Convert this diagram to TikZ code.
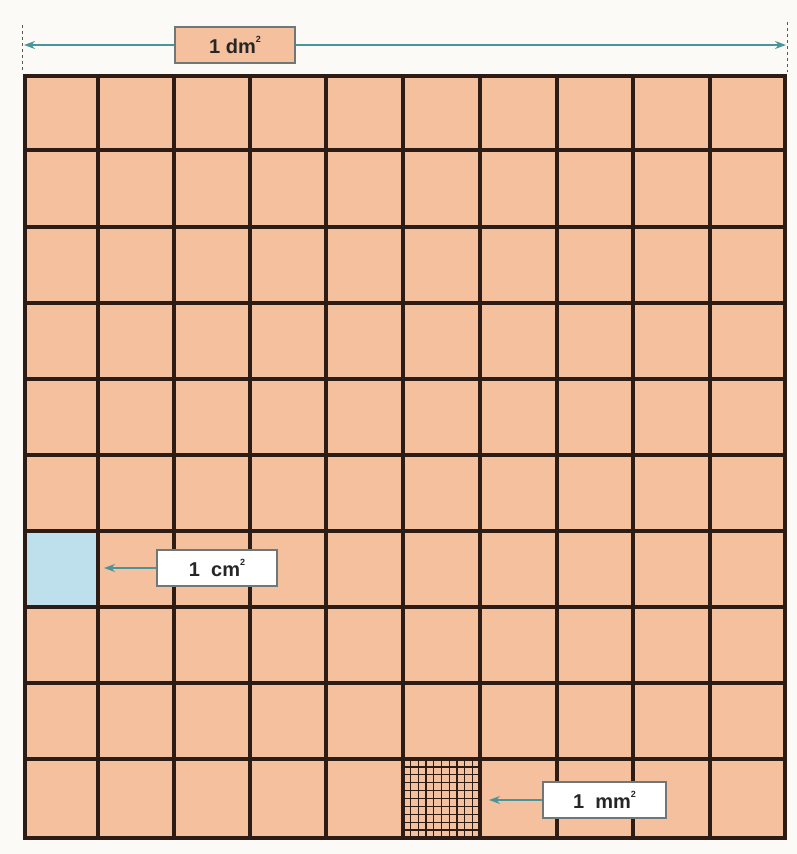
\documentclass[tikz,border=0pt]{standalone}
\usepackage{fontspec}
\setmainfont{Liberation Sans}
\usetikzlibrary{arrows.meta}
\definecolor{bgc}{RGB}{252,250,246}
\definecolor{peach}{RGB}{244,192,158}
\definecolor{cellblue}{RGB}{190,224,236}
\definecolor{gridc}{RGB}{45,28,22}
\definecolor{arrc}{RGB}{72,150,155}
\definecolor{boxedge}{RGB}{110,120,120}
\newcommand{\sqr}{\raisebox{0.55em}{\fontsize{9}{9}\selectfont 2}}
\tikzset{
  lab/.style={draw=boxedge, line width=1.3pt, font=\bfseries\fontsize{20}{22}\selectfont, inner sep=0pt, minimum height=36pt, text=black!85},
  dimarrow/.style={draw=arrc, line width=1.6pt, -{Stealth[length=11pt,width=8pt]}},
  tick/.style={draw=gray!70!black, line width=1pt, dash pattern=on 3pt off 3pt},
}
\begin{document}
\begin{tikzpicture}[x=1pt,y=-1pt]
\useasboundingbox (0,0) rectangle (797,854);
\fill[bgc] (0,0) rectangle (797,854);
% squares
\fill[peach] (25,76) rectangle (785,838);
\fill[cellblue] (25,531) rectangle (98,607);
% mm subdivision
\foreach \i in {1,...,9}{
  \draw[gridc, line width=1.3pt] ({403+\i*7.7},759) -- ({403+\i*7.7},838);
  \draw[gridc, line width=1.3pt] (403,{759+\i*7.9}) -- (480,{759+\i*7.9});
}
% grid lines
\foreach \x in {98,174,250,326,403,480,557,633,710}{
  \draw[gridc, line width=3.2pt] (\x,76) -- (\x,838);
}
\foreach \y in {150,227,303,379,455,531,607,683,759}{
  \draw[gridc, line width=3.2pt] (25,\y) -- (785,\y);
}
\draw[gridc, line width=3.6pt] (25,76) rectangle (785,838);
% dimension
\draw[tick] (22,25) -- (22,72);
\draw[tick] (787,22) -- (787,72);
\coordinate (dl) at (24,45);
\coordinate (dr) at (786,45);
\node[lab, fill=peach, minimum width=120pt] (dm) at (235,45) {1 dm\sqr};
\draw[dimarrow] (dm.west) -- (dl);
\draw[dimarrow] (dm.east) -- (dr);
% cm
\node[lab, fill=white, minimum width=120pt] (cm) at (217,568) {1\ \ cm\sqr};
\coordinate (cmt) at (104,568);
\draw[dimarrow, line width=1.3pt] (cm.west) -- (cmt);
% mm
\node[lab, fill=white, minimum width=123pt] (mm) at (604.5,800) {1\ \ mm\sqr};
\coordinate (mmt) at (489,800);
\draw[dimarrow, line width=1.3pt] (mm.west) -- (mmt);
\end{tikzpicture}
\end{document}
